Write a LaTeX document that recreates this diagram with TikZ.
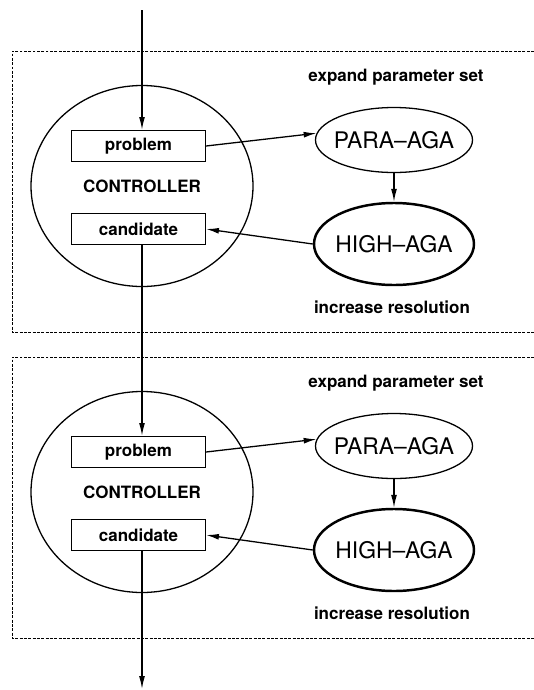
\documentclass[tikz,border=0pt]{standalone}
\usepackage{fontspec}
\setmainfont{TeX Gyre Heros}
\usetikzlibrary{shapes,arrows.meta}

\begin{document}
\begin{tikzpicture}[x=0.03cm,y=-0.03cm,>={Latex[length=11pt,width=5pt]},
  frame/.style={line width=.7pt, dash pattern=on 2.5pt off 1.2pt},
  slot/.style={draw, line width=1pt, inner sep=0, minimum width=4.02cm, minimum height=.93cm,
    font=\fontsize{14.5}{17}\selectfont\bfseries},
  ctrl/.style={draw, ellipse, line width=1.1pt, inner sep=0, minimum width=6.66cm, minimum height=6.03cm,
    font=\fontsize{14.5}{17}\selectfont\bfseries},
  agent/.style={draw, ellipse, line width=1.1pt, inner sep=0, minimum width=4.71cm, minimum height=1.95cm,
    label={[font=\fontsize{19.5}{23}\selectfont]center:#1}},
  agentbold/.style={agent=#1, line width=2.1pt, minimum width=4.8cm, minimum height=2.46cm},
  note/.style={font=\fontsize{14.5}{17}\selectfont\bfseries},
  link/.style={->, line width=1.1pt}]
  \useasboundingbox (0,0) rectangle (534,690);

  % upper stage
  \draw [frame] (534,51)--(12,51)--(12,332)--(534,332);
  \coordinate (in) at (142,10);
  \node [ctrl] (ctrl1) at (142,186) {CONTROLLER};
  \node [slot] (prob1) at (138.5,146) {problem};
  \node [slot] (cand1) at (138.5,229) {candidate};
  \node [agent={PARA--AGA}] (para1) at (394,140) {};
  \node [agentbold={HIGH--AGA}] (high1) at (394,244) {};
  \node [note] (exp1) at (396,77) {expand parameter set};
  \node [note] (inc1) at (392,307) {increase resolution};

  % lower stage
  \draw [frame] (534,357)--(12,357)--(12,638)--(534,638);
  \node [ctrl] (ctrl2) at (142,492) {CONTROLLER};
  \node [slot] (prob2) at (138.5,452) {problem};
  \node [slot] (cand2) at (138.5,535) {candidate};
  \node [agent={PARA--AGA}] (para2) at (394,446) {};
  \node [agentbold={HIGH--AGA}] (high2) at (394,550) {};
  \node [note] (exp2) at (396,383) {expand parameter set};
  \node [note] (inc2) at (392,613) {increase resolution};
  \coordinate (out) at (142,689);

  % connections
  \draw [link] (in) -- (in |- prob1.north);
  \draw [link] (prob1.east) -- (para1.175);
  \draw [link] (para1.south) -- (high1.north);
  \draw [link] (high1.west) -- (cand1.east);
  \draw [link] (cand1.south -| in) -- (in |- prob2.north);
  \draw [link] (prob2.east) -- (para2.175);
  \draw [link] (para2.south) -- (high2.north);
  \draw [link] (high2.west) -- (cand2.east);
  \draw [link] (cand2.south -| in) -- (out);
\end{tikzpicture}
\end{document}
